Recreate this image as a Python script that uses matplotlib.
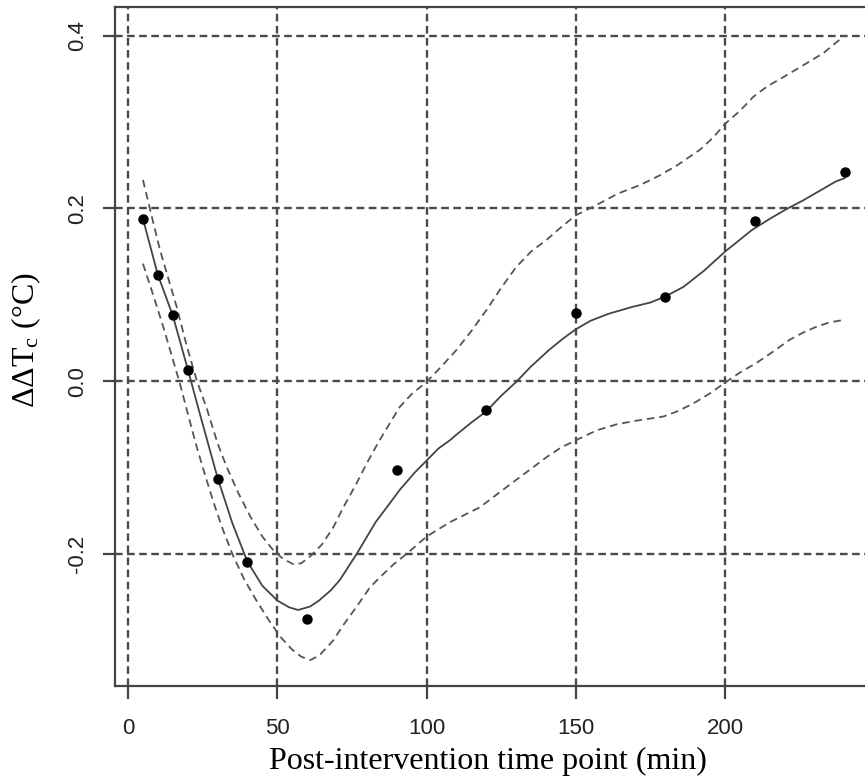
import numpy as np
import matplotlib
matplotlib.use('Agg')
import matplotlib.pyplot as plt

plt.rcParams['lines.scale_dashes'] = False
plt.rcParams['mathtext.fontset'] = 'custom'
plt.rcParams['mathtext.rm'] = 'Liberation Serif'
plt.rcParams['mathtext.it'] = 'Liberation Serif:italic'

# observed points
time_pts = np.array([5, 10, 15, 20, 30, 40, 60, 90, 120, 150, 180, 210, 240])
delta_tc = np.array([0.188, 0.123, 0.076, 0.013, -0.113, -0.209, -0.276,
                     -0.103, -0.034, 0.079, 0.097, 0.185, 0.242])

# fitted curve
fit_x = np.array([5, 10, 15, 20, 24, 30, 35, 40, 45, 50, 54, 57, 61, 64, 68, 71, 76.6,
                  83, 88, 91, 96, 100, 104, 108, 110, 115, 120, 125, 130, 135, 141,
                  146, 150, 155, 161, 165, 169, 175, 180, 186, 193, 200, 209, 215,
                  221, 226, 231, 237, 240])
fit_y = np.array([0.188, 0.123, 0.076, 0.014, -0.037, -0.112, -0.165, -0.209, -0.237,
                  -0.254, -0.262, -0.265, -0.261, -0.254, -0.242, -0.230, -0.200,
                  -0.163, -0.140, -0.126, -0.106, -0.092, -0.078, -0.068, -0.062,
                  -0.048, -0.035, -0.017, -0.001, 0.017, 0.036, 0.050, 0.060, 0.070,
                  0.078, 0.082, 0.086, 0.091, 0.098, 0.109, 0.128, 0.150, 0.175,
                  0.188, 0.200, 0.209, 0.219, 0.231, 0.235])

# upper band
up_x = np.array([5, 8, 10.7, 13.5, 16.3, 19.5, 23, 26.4, 30, 33, 37, 41, 45, 48.7, 52,
                 55.4, 58, 61, 65, 68.8, 72, 76.6, 80, 84, 88, 91, 95, 100, 105, 110,
                 115, 120, 125, 130, 135, 140, 145, 150, 157, 164, 171.5, 178, 184,
                 191.6, 196, 200, 205, 209.4, 214, 219.5, 227.3, 233, 240])
up_y = np.array([0.233, 0.190, 0.152, 0.119, 0.086, 0.043, 0.001, -0.032, -0.072,
                 -0.099, -0.130, -0.157, -0.180, -0.196, -0.206, -0.212, -0.211,
                 -0.203, -0.189, -0.169, -0.147, -0.118, -0.095, -0.070, -0.047,
                 -0.030, -0.015, -0.001, 0.017, 0.036, 0.058, 0.082, 0.108, 0.132,
                 0.150, 0.163, 0.178, 0.192, 0.204, 0.217, 0.227, 0.238, 0.250,
                 0.268, 0.282, 0.298, 0.313, 0.329, 0.341, 0.352, 0.368, 0.380,
                 0.400])

# lower band
lo_x = np.array([5, 8.5, 11.8, 14.6, 17.4, 20.2, 23, 26, 29, 32, 35.3, 39, 43, 47, 51,
                 55, 58, 61, 64, 68.8, 72, 76.6, 81, 84.4, 89, 93.3, 100, 108, 117.9,
                 124, 131.3, 136, 140.2, 145, 150.3, 157, 163.7, 170, 179.3, 184,
                 189.3, 195, 200.3, 205, 210.5, 216, 221.7, 226, 230.6, 235, 240])
lo_y = np.array([0.136, 0.099, 0.063, 0.030, -0.003, -0.040, -0.076, -0.111, -0.144,
                 -0.174, -0.203, -0.230, -0.254, -0.276, -0.296, -0.311, -0.319,
                 -0.323, -0.318, -0.300, -0.283, -0.261, -0.239, -0.227, -0.212,
                 -0.200, -0.180, -0.163, -0.146, -0.130, -0.111, -0.099, -0.088,
                 -0.077, -0.068, -0.057, -0.050, -0.046, -0.041, -0.035, -0.026,
                 -0.014, -0.001, 0.010, 0.021, 0.034, 0.048, 0.056, 0.063, 0.068,
                 0.071])

x_ticks = [0, 50, 100, 150, 200]
y_ticks = [-0.2, 0.0, 0.2, 0.4]
y_tick_labels = ['-0.2', '0.0', '0.2', '0.4']

fig = plt.figure(figsize=(8.65, 7.83), dpi=100)
ax = fig.add_axes([0.1328, 0.1239, 0.876, 0.867])

grid_col = '#4a4a4a'
for gx in x_ticks:
    ax.axvline(gx, color=grid_col, lw=1.7, linestyle=(0, (5.5, 3.2)), zorder=1)
for gy in y_ticks:
    ax.axhline(gy, color=grid_col, lw=1.7, linestyle=(0, (5.5, 3.2)), zorder=1)

ax.plot(up_x, up_y, color='#555555', lw=1.3, linestyle=(0, (5.5, 3.5)), zorder=2)
ax.plot(lo_x, lo_y, color='#555555', lw=1.3, linestyle=(0, (5.5, 3.5)), zorder=2)
ax.plot(fit_x, fit_y, color='#444444', lw=1.3, zorder=3)
ax.plot(time_pts, delta_tc, 'o', color='black', ms=6.5, zorder=4)

ax.set_xlim(-4.4, 249.4)
ax.set_ylim(-0.353, 0.433)
ax.set_xticks(x_ticks)
ax.set_yticks(y_ticks)
ax.set_yticklabels(y_tick_labels, rotation=90, va='center')

for s in ax.spines.values():
    s.set_color('#444444')
    s.set_linewidth(1.6)

ax.tick_params(axis='both', direction='out', length=9, width=1.6, color='#444444',
               labelsize=16, labelcolor='#222222')
ax.tick_params(axis='x', pad=14)
ax.tick_params(axis='y', pad=10)
for lab in ax.get_xticklabels() + ax.get_yticklabels():
    lab.set_fontfamily('Liberation Sans')

ax.set_xlabel('Post-intervention time point (min)', fontsize=23,
              fontfamily='Liberation Serif')
ax.set_ylabel(r'$\mathrm{\Delta\Delta T_c}$ (°C)', fontsize=23,
              fontfamily='Liberation Serif')
ax.xaxis.set_label_coords(0.492, -0.09)
ax.yaxis.set_label_coords(-0.095, 0.51)

fig.savefig('out.png', dpi=100)
